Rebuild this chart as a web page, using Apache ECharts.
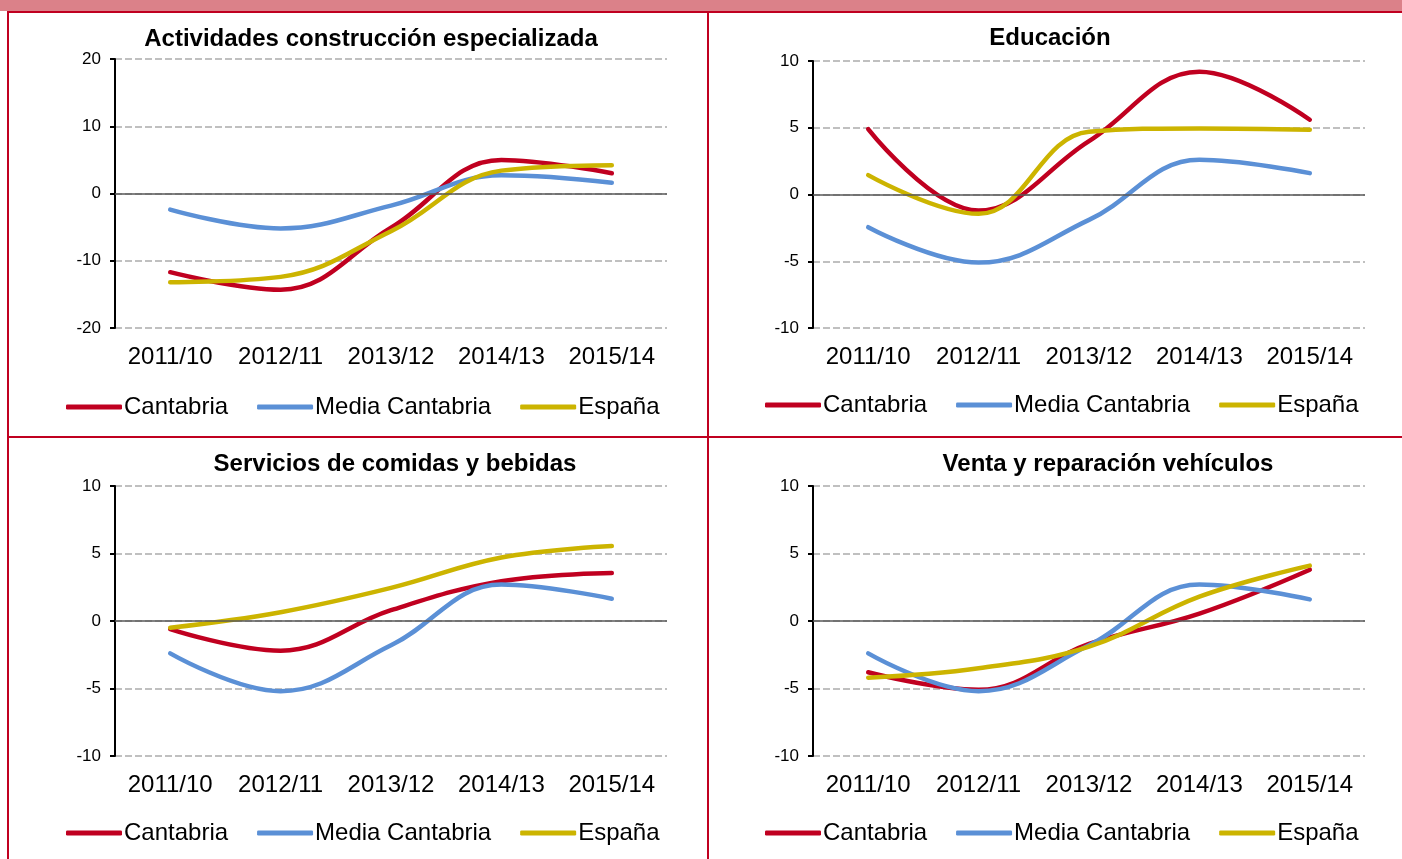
<!DOCTYPE html>
<html>
<head>
<meta charset="utf-8">
<script src="https://cdn.jsdelivr.net/npm/echarts@6/dist/echarts.min.js"></script>
<style>
    body{margin:0;background:#fff;}
    #main{width:1402px;height:859px;}
</style>
</head>
<body>
<div id="main"></div>
<script>
// 类别
var categorias = ['2011/10', '2012/11', '2013/12', '2014/13', '2015/14']
var nombres_series = ['Cantabria', 'Media Cantabria', 'España']

// Actividades construcción especializada
var construccion_cantabria = [-11.7, -14.3, -5.1, 5.0, 3.0]
var construccion_media = [-2.4, -5.2, -1.8, 2.7, 1.6]
var construccion_espana = [-13.2, -12.4, -5.6, 3.4, 4.2]

// Educación
var educacion_cantabria = [4.9, -1.2, 4.0, 9.2, 5.6]
var educacion_media = [-2.45, -5.1, -1.9, 2.6, 1.6]
var educacion_espana = [1.45, -1.45, 4.7, 4.95, 4.85]

// Servicios de comidas y bebidas
var comidas_cantabria = [-0.6, -2.2, 0.8, 2.95, 3.55]
var comidas_media = [-2.4, -5.2, -1.8, 2.7, 1.65]
var comidas_espana = [-0.5, 0.65, 2.45, 4.7, 5.55]

// Venta y reparación vehículos
var vehiculos_cantabria = [-3.8, -5.1, -1.7, 0.55, 3.8]
var vehiculos_media = [-2.4, -5.2, -1.8, 2.7, 1.6]
var vehiculos_espana = [-4.2, -3.5, -1.9, 1.8, 4.1]

// 轴范围
var rango_construccion = {min: -20, max: 20, interval: 10}
var rango_otros = {min: -10, max: 10, interval: 5}

var colores = ['#C00020', '#5B90D6', '#CCB400']
var fuente = 'Liberation Sans, Arial, sans-serif'

// 四个面板的位置
var paneles = [
    {titulo: 'Actividades construcción especializada', tx: 366, ty: 22, left: 115, top: 59, height: 269, ly: 395, lx: 66,
        rango: rango_construccion, datos: [construccion_cantabria, construccion_media, construccion_espana]},
    {titulo: 'Educación', tx: 1045, ty: 21, left: 813, top: 61, height: 267, ly: 393, lx: 765,
        rango: rango_otros, datos: [educacion_cantabria, educacion_media, educacion_espana]},
    {titulo: 'Servicios de comidas y bebidas', tx: 390, ty: 447, left: 115, top: 486, height: 270, ly: 821, lx: 66,
        rango: rango_otros, datos: [comidas_cantabria, comidas_media, comidas_espana]},
    {titulo: 'Venta y reparación vehículos', tx: 1103, ty: 447, left: 813, top: 486, height: 270, ly: 821, lx: 765,
        rango: rango_otros, datos: [vehiculos_cantabria, vehiculos_media, vehiculos_espana]}
]

var option = {
    animation: false,
    backgroundColor: '#fff',
    textStyle: {fontFamily: fuente},
    title: [],
    legend: [],
    grid: [],
    xAxis: [],
    yAxis: [],
    series: [],
    graphic: [
        // 顶部色条和边框
        {type: 'rect', shape: {x: 0, y: 0, width: 1402, height: 11}, style: {fill: '#DB8189'}, silent: true},
        {type: 'rect', shape: {x: 7, y: 11, width: 1395, height: 2}, style: {fill: '#C00020'}, silent: true},
        {type: 'rect', shape: {x: 7, y: 11, width: 2, height: 848}, style: {fill: '#C00020'}, silent: true},
        {type: 'rect', shape: {x: 707, y: 11, width: 2, height: 848}, style: {fill: '#C00020'}, silent: true},
        {type: 'rect', shape: {x: 7, y: 436, width: 1395, height: 2}, style: {fill: '#C00020'}, silent: true}
    ]
}

paneles.forEach(function (p, i) {
    option.title.push({
        text: p.titulo,
        left: p.tx,
        top: p.ty,
        textAlign: 'center',
        textStyle: {fontFamily: fuente, fontSize: 24, fontWeight: 'bold', color: '#000'}
    })
    option.legend.push({
        data: nombres_series,
        left: p.lx,
        top: p.ly,
        padding: 0,
        itemWidth: 56,
        itemHeight: 5,
        itemGap: 29,
        icon: 'roundRect',
        textStyle: {fontFamily: fuente, fontSize: 24, color: '#000', padding: [0, 0, 0, -3]}
    })
    option.grid.push({left: p.left, top: p.top, width: 552, height: p.height})
    option.xAxis.push({
        type: 'category',
        gridIndex: i,
        data: categorias,
        boundaryGap: true,
        axisLine: {show: false},
        axisTick: {show: false},
        axisLabel: {fontFamily: fuente, fontSize: 24, color: '#000', margin: 17, interval: 0}
    })
    option.yAxis.push({
        type: 'value',
        gridIndex: i,
        min: p.rango.min,
        max: p.rango.max,
        interval: p.rango.interval,
        axisLine: {show: true, lineStyle: {color: '#000', width: 2}},
        axisTick: {show: true, length: 5, lineStyle: {color: '#000', width: 2}},
        axisLabel: {fontFamily: fuente, fontSize: 17, color: '#000', margin: 14},
        splitLine: {show: true, lineStyle: {color: '#C0C0C0', width: 2, type: [7, 3]}}
    })
    p.datos.forEach(function (d, k) {
        var s = {
            name: nombres_series[k],
            type: 'line',
            xAxisIndex: i,
            yAxisIndex: i,
            data: d,
            smooth: 0.4,
            showSymbol: false,
            symbol: 'none',
            color: colores[k],
            lineStyle: {width: 4.5, color: colores[k], cap: 'round'}
        }
        // 零线
        if (k == 0) {
            s.markLine = {
                silent: true,
                symbol: 'none',
                label: {show: false},
                lineStyle: {color: '#595959', type: 'solid', width: 1.5},
                data: [{yAxis: 0}]
            }
        }
        option.series.push(s)
    })
})

var chart = echarts.init(document.getElementById('main'))
chart.setOption(option)
</script>
</body>
</html>
